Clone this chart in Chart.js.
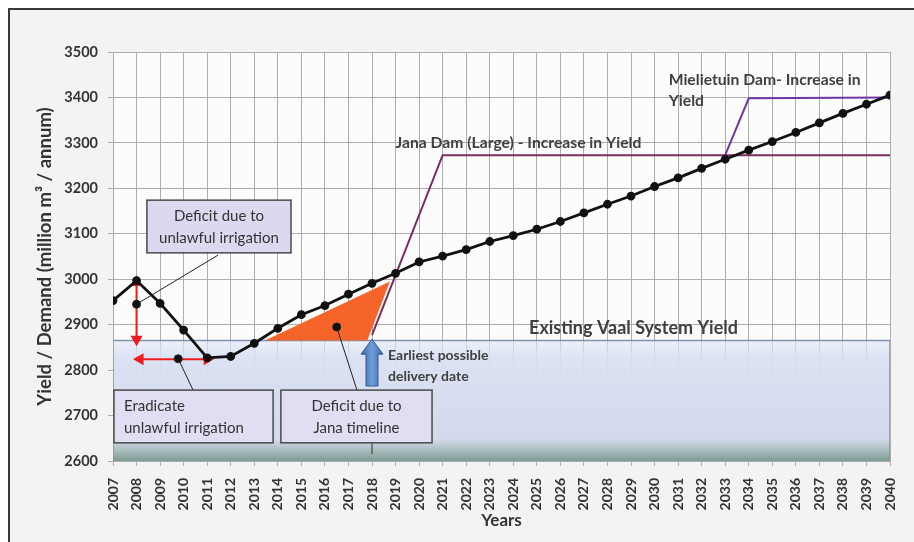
<!DOCTYPE html>
<html>
<head>
<meta charset="utf-8">
<script src="https://cdn.jsdelivr.net/npm/chart.js@4.4.1/dist/chart.umd.min.js"></script>
<style>
  html, body { margin: 0; padding: 0; background: #fff; }
  #wrap { position: relative; width: 914px; height: 542px; overflow: hidden; }
  #frame { position: absolute; left: 8px; top: 8px; width: 920px; height: 550px;
           border-top: 2px solid #3a3a3a; border-left: 2px solid #3a3a3a; background: #f3f3f3; }
  canvas { position: absolute; left: 0; top: 0; }
</style>
</head>
<body>
<div id="wrap"><div id="frame"></div><canvas id="chart" width="914" height="542"></canvas></div>
<script>
// --- DATA ---
const years = [2007, 2008, 2009, 2010, 2011, 2012, 2013, 2014, 2015, 2016, 2017, 2018, 2019, 2020, 2021, 2022, 2023,
               2024, 2025, 2026, 2027, 2028, 2029, 2030, 2031, 2032, 2033, 2034, 2035, 2036, 2037, 2038, 2039, 2040];
const demand = [2953, 2997, 2947, 2888, 2827, 2830, 2859, 2892, 2922, 2942, 2967, 2991, 3013, 3038, 3051, 3065, 3083,
                3096, 3110, 3127, 3146, 3165, 3183, 3204, 3223, 3244, 3264, 3284, 3303, 3323, 3344, 3365, 3385, 3405];

// Jana Dam (Large) yield step
const janaYears = [2018, 2021, 2040];
const janaYield = [2877, 3273, 3273];

// Mielietuin Dam yield step
const mielYears = [2033, 2034, 2040];
const mielYield = [3273, 3398, 3400];

// Existing Vaal System Yield (block)
const vaalYears = [2007, 2007, 2040, 2040];
const vaalYield = [2600, 2865, 2865, 2600];

// Deficit due to Jana timeline (orange triangle)
const deficitYears = [2013.45, 2018.76, 2017.8];
const deficitVals = [2865, 2995, 2865];

// red arrows (unlawful irrigation)
const irrVYears = [2008, 2008];
const irrVVals = [2993, 2868];
const irrHYears = [2008.15, 2011.0];
const irrHVals = [2824, 2824];

// callout dots and their leader ends
const dotYears = [2008, 2009.77, 2016.5];
const dotVals = [2945, 2825, 2895];
const leaderYears = [2011.46, 2010.4, 2017.36];
const leaderVals = [3053, 2756, 2756];

const yTicks = [2600, 2700, 2800, 2900, 3000, 3100, 3200, 3300, 3400, 3500];

function pts(xs, ys) { return xs.map((x, i) => ({ x: x, y: ys[i] })); }

const FONT = "Lato, 'Open Sans', sans-serif";
Chart.defaults.font.family = FONT;
Chart.defaults.color = '#3a3a3a';
Chart.defaults.animation = false;

// text boxes and labels (data coordinates)
const boxes = [
    { x0: 2008.44, x1: 2014.56, y0: 3174, y1: 3058, lines: ['Deficit due to', 'unlawful irrigation'], align: 'center', fill: '#dbd8ef' },
    { x0: 2007.04, x1: 2013.8, y0: 2756, y1: 2640, lines: ['Eradicate', 'unlawful irrigation'], align: 'left', fill: '#dfdef2' },
    { x0: 2014.13, x1: 2020.55, y0: 2756, y1: 2640, lines: ['Deficit due to', 'Jana timeline'], align: 'center', fill: '#dfdef2' }
];
const labels = [
    { x: 2019.0, y: 3300, text: 'Jana Dam (Large) - Increase in Yield', size: 15.7 },
    { x: 2030.6, y: 3438, text: 'Mielietuin Dam- Increase in', size: 15.7 },
    { x: 2030.6, y: 3392, text: 'Yield', size: 15.7 },
    { x: 2024.67, y: 2893, text: 'Existing Vaal System Yield', size: 18 },
    { x: 2018.68, y: 2833, text: 'Earliest possible', size: 14 },
    { x: 2018.68, y: 2785, text: 'delivery date', size: 14 }
];

const bgPlugin = {
    id: 'plotBg',
    beforeDraw(chart) {
        const a = chart.chartArea;
        const c = chart.ctx;
        c.save();
        c.fillStyle = '#fcfcfc';
        c.fillRect(a.left, a.top, a.right - a.left, a.bottom - a.top);
        c.restore();
    }
};

const notesPlugin = {
    id: 'notes',
    afterDatasetsDraw(chart) {
        const c = chart.ctx;
        const xs = chart.scales.x, ys = chart.scales.y;
        c.save();
        // blue arrow - earliest delivery date
        const ax = xs.getPixelForValue(2018);
        const aTop = ys.getPixelForValue(2868), aBot = ys.getPixelForValue(2765);
        const g = c.createLinearGradient(ax - 11, 0, ax + 11, 0);
        g.addColorStop(0, '#3a6aab');
        g.addColorStop(0.5, '#6e9dd9');
        g.addColorStop(1, '#3a6aab');
        c.beginPath();
        c.moveTo(ax - 6, aBot);
        c.lineTo(ax - 6, aTop + 15);
        c.lineTo(ax - 11, aTop + 15);
        c.lineTo(ax, aTop);
        c.lineTo(ax + 11, aTop + 15);
        c.lineTo(ax + 6, aTop + 15);
        c.lineTo(ax + 6, aBot);
        c.closePath();
        c.fillStyle = g;
        c.fill();
        c.strokeStyle = '#2f5b93';
        c.lineWidth = 1;
        c.stroke();

        // small tick below Jana box
        c.beginPath();
        c.moveTo(ax, ys.getPixelForValue(2640));
        c.lineTo(ax, ys.getPixelForValue(2615));
        c.strokeStyle = '#333';
        c.stroke();

        // boxes
        boxes.forEach(b => {
            const l = xs.getPixelForValue(b.x0), r = xs.getPixelForValue(b.x1);
            const t = ys.getPixelForValue(b.y0), bt = ys.getPixelForValue(b.y1);
            c.fillStyle = b.fill;
            c.fillRect(l, t, r - l, bt - t);
            c.strokeStyle = '#4a4a4a';
            c.lineWidth = 1.5;
            c.strokeRect(l, t, r - l, bt - t);
            c.fillStyle = '#333';
            c.font = '15px ' + FONT;
            c.textBaseline = 'middle';
            c.textAlign = b.align;
            const tx = b.align === 'left' ? l + 10 : (l + r) / 2;
            const h = bt - t;
            c.fillText(b.lines[0], tx, t + h * 0.3);
            c.fillText(b.lines[1], tx, t + h * 0.72);
        });

        // labels
        labels.forEach(lb => {
            c.font = 'bold ' + lb.size + 'px ' + FONT;
            c.fillStyle = '#404040';
            c.textAlign = 'left';
            c.textBaseline = 'middle';
            c.fillText(lb.text, xs.getPixelForValue(lb.x), ys.getPixelForValue(lb.y));
        });
        c.restore();
    }
};

const ctx = document.getElementById('chart').getContext('2d');
const chart = new Chart(ctx, {
    type: 'line',
    data: {
        datasets: [{
            label: 'Demand',
            data: pts(years, demand),
            borderColor: '#111',
            backgroundColor: '#111',
            borderWidth: 2.8,
            pointRadius: 3,
            pointBackgroundColor: '#111',
            order: 1
        }, {
            label: 'Jana Dam',
            data: pts(janaYears, janaYield),
            borderColor: '#7b2c5e',
            borderWidth: 2,
            pointRadius: 0,
            order: 3
        }, {
            label: 'Mielietuin Dam',
            data: pts(mielYears, mielYield),
            borderColor: '#7334a8',
            borderWidth: 2,
            pointRadius: 0,
            order: 2
        }, {
            label: 'Deficit Jana',
            data: pts(deficitYears, deficitVals),
            borderWidth: 0,
            borderColor: 'rgba(0,0,0,0)',
            backgroundColor: '#f5652a',
            fill: 'shape',
            pointRadius: 0,
            order: 5
        }, {
            label: 'Existing Vaal System Yield',
            data: pts(vaalYears, vaalYield),
            borderColor: '#8190b4',
            borderWidth: 1.5,
            pointRadius: 0,
            fill: 'shape',
            backgroundColor: function(context) {
                const ch = context.chart;
                if (!ch.chartArea) return '#d6dcef';
                const top = ch.scales.y.getPixelForValue(2865);
                const bot = ch.scales.y.getPixelForValue(2600);
                const gr = ch.ctx.createLinearGradient(0, top, 0, bot);
                gr.addColorStop(0, 'rgba(222,230,246,0.55)');
                gr.addColorStop(0.14, 'rgba(216,224,242,0.92)');
                gr.addColorStop(0.5, '#d7ddf0');
                gr.addColorStop(0.82, '#d3daec');
                gr.addColorStop(0.9, '#afc1c3');
                gr.addColorStop(1, '#7d9b94');
                return gr;
            },
            order: 6
        }, {
            label: 'Irrigation deficit arrow',
            data: pts(irrVYears, irrVVals),
            borderColor: '#ee1c1c',
            backgroundColor: '#ee1c1c',
            borderWidth: 2,
            pointStyle: 'triangle',
            pointRadius: 5,
            pointRotation: [0, 180],
            order: 4
        }, {
            label: 'Eradicate arrow',
            data: pts(irrHYears, irrHVals),
            borderColor: '#ee1c1c',
            backgroundColor: '#ee1c1c',
            borderWidth: 2,
            pointStyle: 'triangle',
            pointRadius: 5,
            pointRotation: [270, 90],
            order: 4
        }, ...dotYears.map((dx, i) => ({
            label: 'Callout ' + (i + 1),
            data: [{ x: dx, y: dotVals[i] }, { x: leaderYears[i], y: leaderVals[i] }],
            borderColor: '#222',
            backgroundColor: '#111',
            borderWidth: 1,
            pointRadius: [4, 0],
            order: 0
        }))]
    },
    options: {
        responsive: false,
        animation: false,
        layout: { padding: { left: 30, right: 24, top: 52, bottom: 7 } },
        plugins: {
            legend: { display: false },
            tooltip: { enabled: false }
        },
        scales: {
            x: {
                type: 'linear',
                min: 2007,
                max: 2040,
                afterFit(scale) {
                    scale.height = 74;
                    scale.paddingRight = 0;
                    scale.paddingLeft = 0;
                },
                grid: { color: '#adadad', lineWidth: 1, tickLength: 5 },
                border: { color: '#adadad' },
                ticks: {
                    stepSize: 1,
                    autoSkip: false,
                    maxRotation: 90,
                    minRotation: 90,
                    padding: 12,
                    color: '#333',
                    font: { size: 14, weight: 'bold' },
                    callback: v => String(v)
                },
                title: { display: true, text: 'Years', color: '#333', font: { size: 17, weight: 'bold' } }
            },
            y: {
                min: 2600,
                max: 3500,
                afterFit(scale) { scale.width = 83; },
                afterBuildTicks(scale) { scale.ticks = yTicks.map(v => ({ value: v })); },
                grid: { color: '#adadad', lineWidth: 1, tickLength: 5 },
                border: { color: '#adadad' },
                ticks: {
                    padding: 10,
                    color: '#333',
                    font: { size: 14.5, weight: 'bold' },
                    callback: v => String(v)
                },
                title: { display: true, text: 'Yield / Demand (million m\u00b3 / annum)', color: '#333', font: { size: 18.5, weight: 'bold' } }
            }
        }
    },
    plugins: [bgPlugin, notesPlugin]
});
</script>
</body>
</html>
